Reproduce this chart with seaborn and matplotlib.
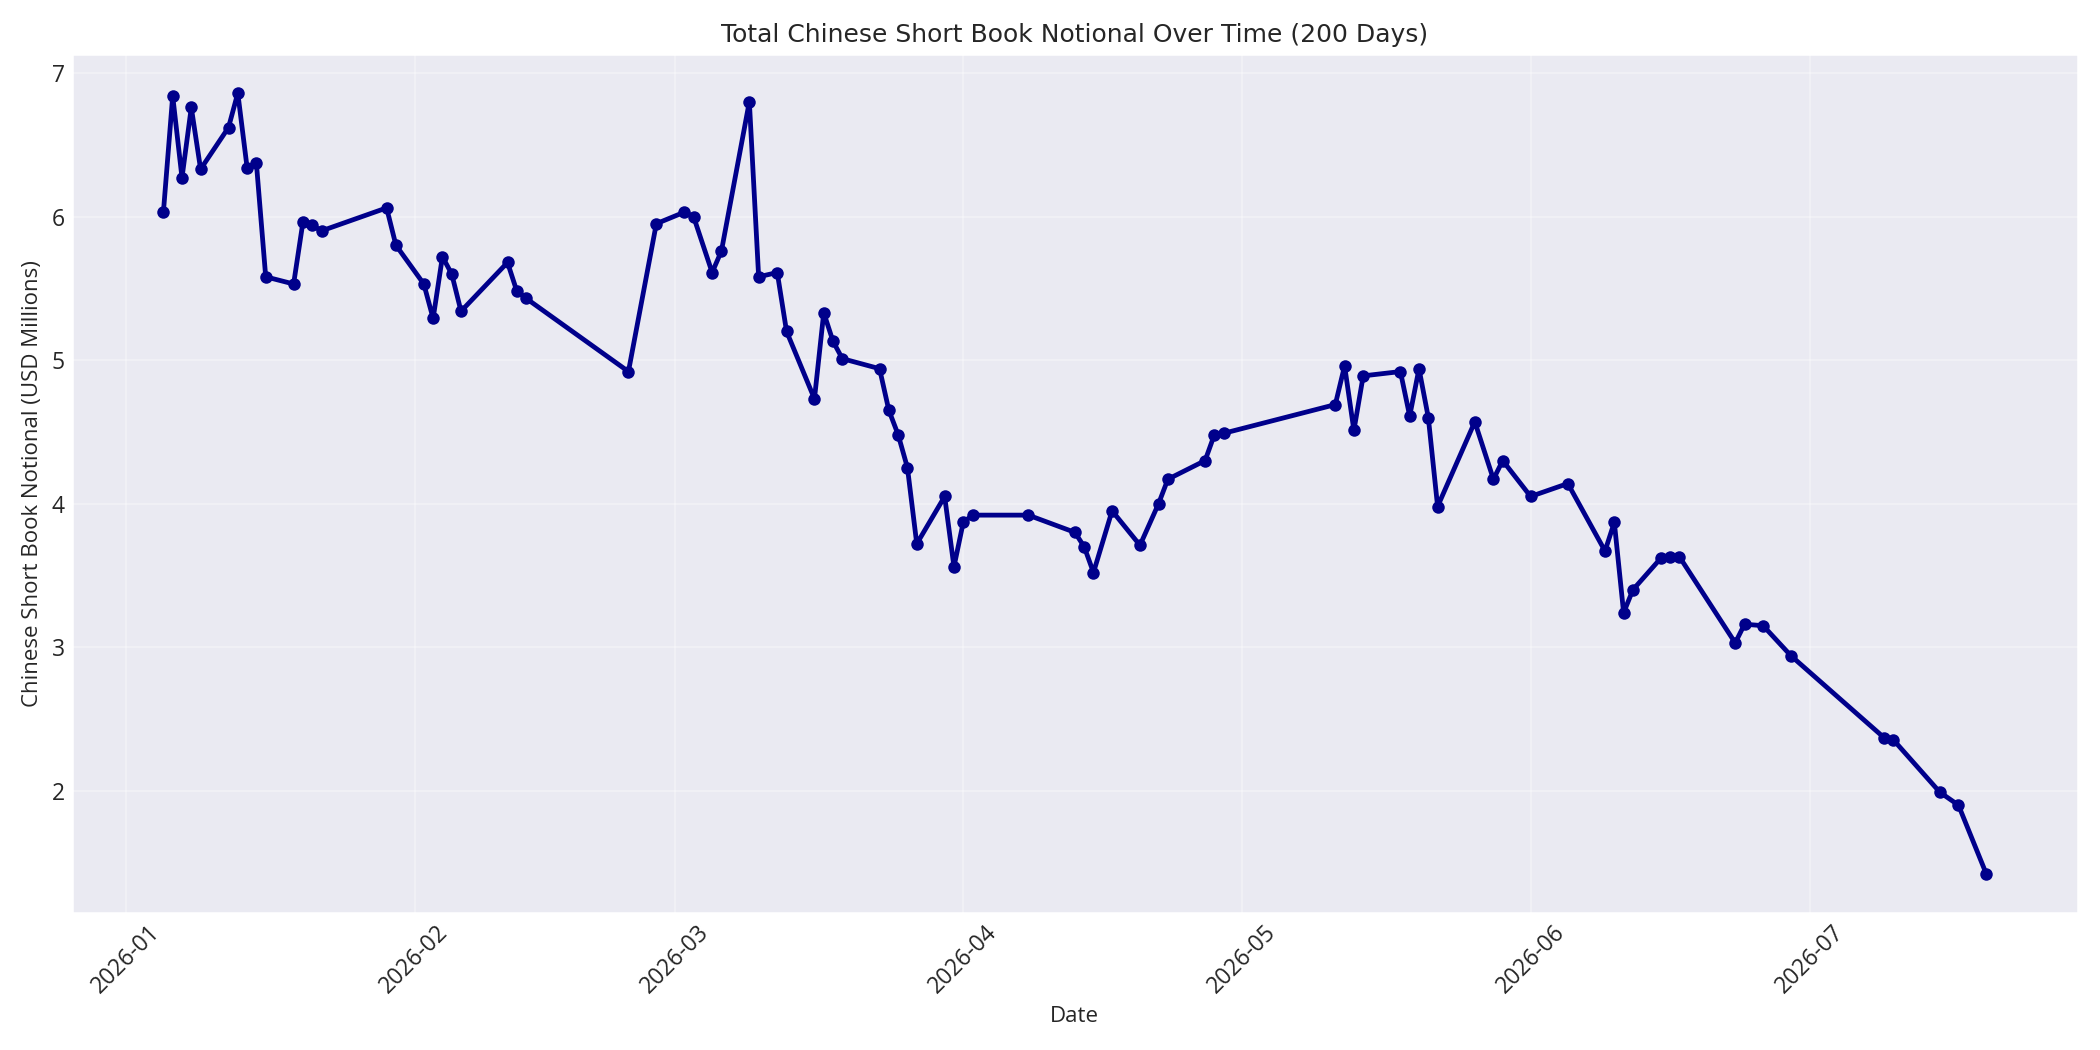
import matplotlib
matplotlib.use("Agg")
import matplotlib.pyplot as plt
import seaborn as sns
import pandas as pd

dates = [
    "2026-01-05", "2026-01-06", "2026-01-07", "2026-01-08", "2026-01-09",
    "2026-01-12", "2026-01-13", "2026-01-14", "2026-01-15", "2026-01-16",
    "2026-01-19", "2026-01-20", "2026-01-21", "2026-01-22", "2026-01-29",
    "2026-01-30", "2026-02-02", "2026-02-03", "2026-02-04", "2026-02-05",
    "2026-02-06", "2026-02-11", "2026-02-12", "2026-02-13", "2026-02-24",
    "2026-02-27", "2026-03-02", "2026-03-03", "2026-03-05", "2026-03-06",
    "2026-03-09", "2026-03-10", "2026-03-12", "2026-03-13", "2026-03-16",
    "2026-03-17", "2026-03-18", "2026-03-19", "2026-03-23", "2026-03-24",
    "2026-03-25", "2026-03-26", "2026-03-27", "2026-03-30", "2026-03-31",
    "2026-04-01", "2026-04-02", "2026-04-08", "2026-04-13", "2026-04-14",
    "2026-04-15", "2026-04-17", "2026-04-20", "2026-04-22", "2026-04-23",
    "2026-04-27", "2026-04-28", "2026-04-29", "2026-05-11", "2026-05-12",
    "2026-05-13", "2026-05-14", "2026-05-18", "2026-05-19", "2026-05-20",
    "2026-05-21", "2026-05-22", "2026-05-26", "2026-05-28", "2026-05-29",
    "2026-06-01", "2026-06-05", "2026-06-09", "2026-06-10", "2026-06-11",
    "2026-06-12", "2026-06-15", "2026-06-16", "2026-06-17", "2026-06-23",
    "2026-06-24", "2026-06-26", "2026-06-29", "2026-07-09", "2026-07-10",
    "2026-07-15", "2026-07-17", "2026-07-20",
]

notional = [
    6.03, 6.84, 6.27, 6.76, 6.33,
    6.62, 6.86, 6.34, 6.37, 5.58,
    5.53, 5.96, 5.94, 5.90, 6.06,
    5.80, 5.53, 5.29, 5.72, 5.60,
    5.34, 5.68, 5.48, 5.43, 4.92,
    5.95, 6.03, 6.00, 5.61, 5.76,
    6.80, 5.58, 5.61, 5.20, 4.73,
    5.33, 5.13, 5.01, 4.94, 4.65,
    4.48, 4.25, 3.72, 4.05, 3.56,
    3.87, 3.92, 3.92, 3.80, 3.70,
    3.52, 3.95, 3.71, 4.00, 4.17,
    4.30, 4.48, 4.49, 4.69, 4.96,
    4.51, 4.89, 4.92, 4.61, 4.94,
    4.60, 3.98, 4.57, 4.17, 4.30,
    4.05, 4.14, 3.67, 3.87, 3.24,
    3.40, 3.62, 3.63, 3.63, 3.03,
    3.16, 3.15, 2.94, 2.37, 2.355,
    1.99, 1.90, 1.42,
]

title = "Total Chinese Short Book Notional Over Time (200 Days)"
xlabel = "Date"
ylabel = "Chinese Short Book Notional (USD Millions)"

sns.set_theme(style="darkgrid")
plt.rcParams["font.family"] = ["Open Sans", "DejaVu Sans"]

df = pd.DataFrame({"date": pd.to_datetime(dates), "notional": notional})

fig, ax = plt.subplots(figsize=(14, 7), dpi=150)
sns.lineplot(data=df, x="date", y="notional", marker="o", color="darkblue",
             linewidth=2.3, markersize=6, markeredgewidth=0, ax=ax)
ax.set_title(title, fontsize=12, family="DejaVu Sans")
ax.set_xlabel(xlabel, fontsize=10.7)
ax.set_ylabel(ylabel, fontsize=10.7)
ax.tick_params(axis="both", labelsize=11, size=0, pad=3.5)
ax.grid(True, alpha=0.3)
plt.setp(ax.get_xticklabels(), rotation=45)
fig.tight_layout(pad=0.9)
fig.savefig("out.png", dpi=150)
